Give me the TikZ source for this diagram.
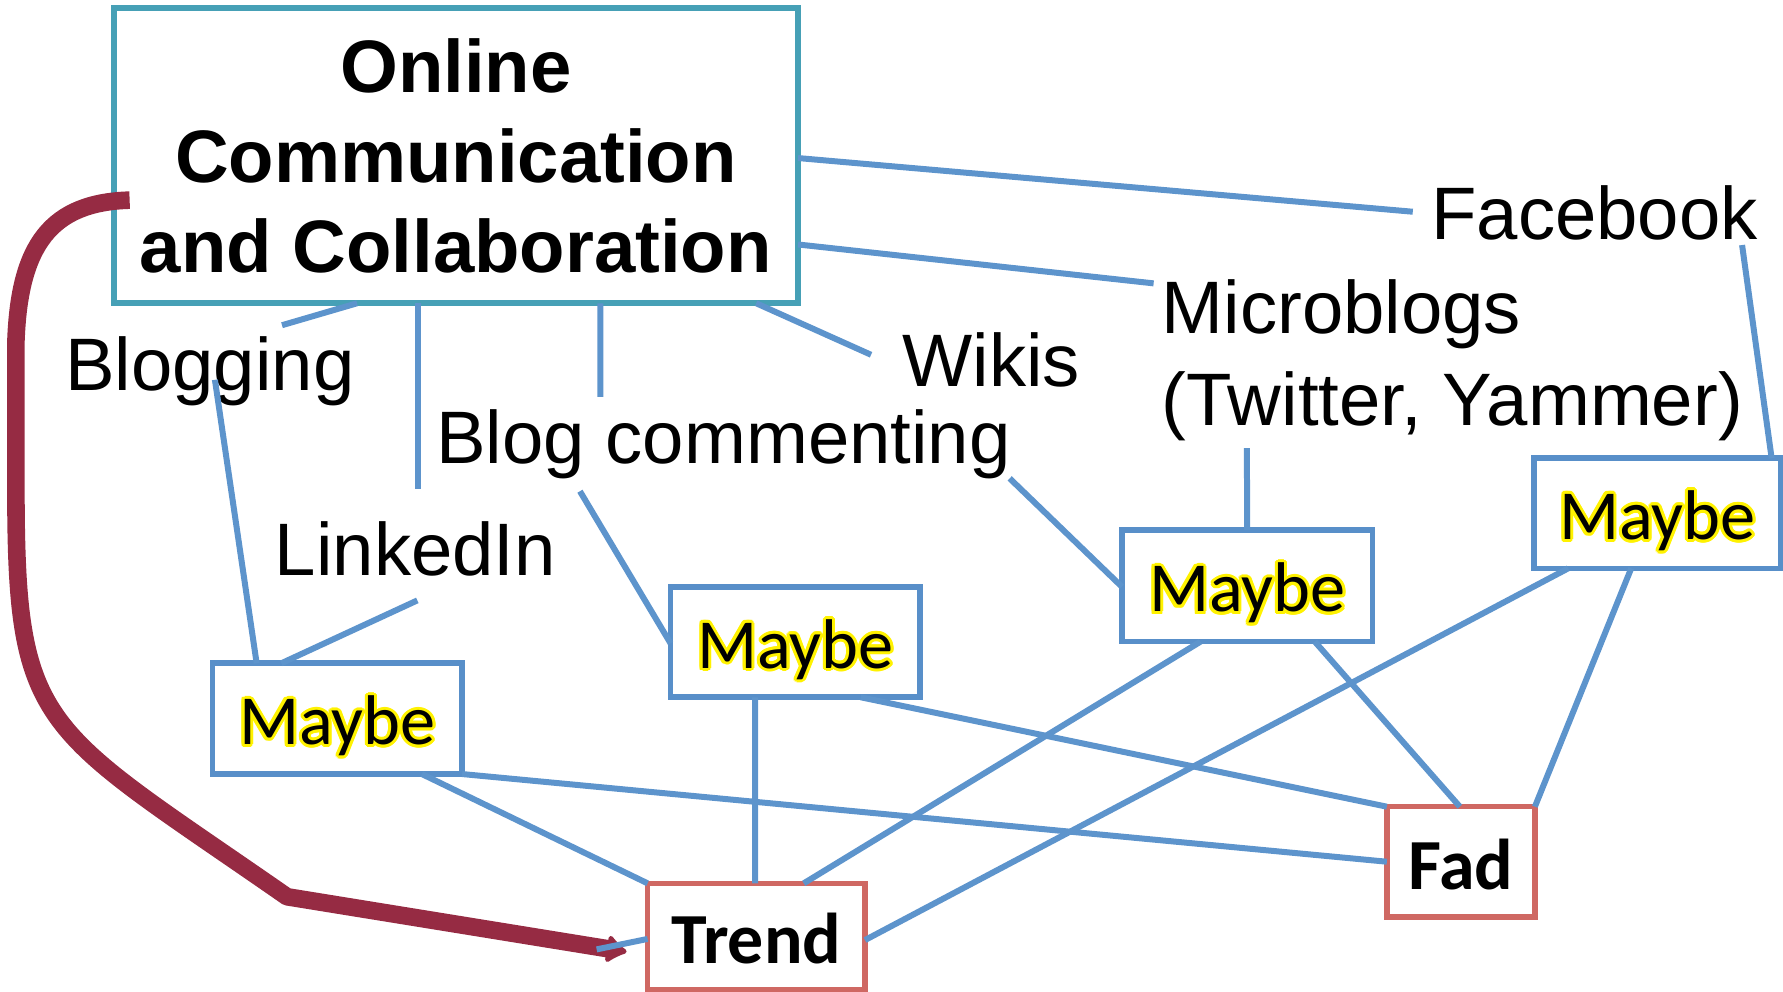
\documentclass[tikz,border=0pt]{standalone}
\usepackage{fontspec}
\setmainfont{Liberation Sans}
\newfontfamily\calibri{Carlito}
\usepackage{contour}
\contourlength{0.75pt}
\usetikzlibrary{arrows.meta}
\definecolor{wireblue}{RGB}{93,148,204}
\definecolor{boxblue}{RGB}{88,143,201}
\definecolor{boxred}{RGB}{207,104,99}
\definecolor{mainteal}{RGB}{70,160,182}
\definecolor{flowred}{RGB}{150,43,67}
\tikzset{wire/.style = {draw=wireblue, line width=1.5pt}}
\tikzset{flow/.style = {draw=flowred, line width=4.4pt, line join=round,
                        -{Latex[length=0.2cm, width=0.3cm, round]}}}
\tikzset{
mainbox/.style = {draw=mainteal, line width=1.5pt, fill=white, align=center,
                  inner sep=0pt, outer sep=0pt, minimum width=6.018cm, minimum height=2.594cm,
                  font=\fontsize{18.6}{22.6}\selectfont\bfseries},
topic/.style = {inner sep=0pt, font=\fontsize{18.6}{22.9}\selectfont},
maybe/.style = {draw=boxblue, line width=1.4pt, fill=white, inner sep=0pt, outer sep=0pt,
                text height=0.46cm, text depth=0cm,
                font=\calibri\fontsize{17.6}{20}\selectfont},
verdict/.style = {draw=boxred, line width=1.4pt, fill=white, inner sep=0pt, outer sep=0pt,
                  text height=0.48cm, text depth=0cm,
                  font=\calibri\bfseries\fontsize{18}{20}\selectfont},
}

\begin{document}
\begin{tikzpicture}
		\useasboundingbox (0,0) rectangle (15.68,-8.72);
		\node [mainbox] (0) at (4.009, -1.37) {Online\\Communication\\and Collaboration};
		\node [topic, anchor=base west] (1) at (0.566, -3.43) {Blogging};
		\node [topic, anchor=base west] (2) at (2.41, -5.06) {LinkedIn};
		\node [topic, anchor=base west] (3) at (3.83, -4.08) {Blog commenting};
		\node [topic, anchor=base west] (4) at (7.93, -3.40) {Wikis};
		\node [topic, anchor=north west, align=left] (5) at (10.21, -2.452) {Microblogs\\(Twitter, Yammer)};
		\node [topic, anchor=base west] (6) at (12.58, -2.11) {Facebook};
		\node [maybe, minimum width=2.196cm, minimum height=0.974cm] (7) at (2.966, -6.32) {\contour{yellow}{Maybe}};
		\node [maybe, minimum width=2.193cm, minimum height=0.972cm] (8) at (6.9935, -5.646) {\contour{yellow}{Maybe}};
		\node [maybe, minimum width=2.204cm, minimum height=0.983cm] (9) at (10.968, -5.1515) {\contour{yellow}{Maybe}};
		\node [maybe, minimum width=2.172cm, minimum height=0.968cm] (10) at (14.574, -4.514) {\contour{yellow}{Maybe}};
		\node [verdict, minimum width=1.912cm, minimum height=0.938cm] (11) at (6.651, -8.237) {Trend};
		\node [verdict, minimum width=1.302cm, minimum height=0.968cm] (12) at (12.847, -7.578) {Fad};
		\coordinate (13) at (2.48, -2.86);
		\coordinate (14) at (3.676, -4.30);
		\coordinate (15) at (5.28, -3.49);
		\coordinate (16) at (7.66, -3.12);
		\coordinate (17) at (10.145, -2.492);
		\coordinate (18) at (12.424, -1.862);
		\coordinate (19) at (1.89, -3.34);
		\coordinate (20) at (3.67, -5.28);
		\coordinate (21) at (5.10, -4.32);
		\coordinate (22) at (8.879, -4.207);
		\coordinate (23) at (10.965, -3.94);
		\coordinate (24) at (15.32, -2.155);
		\coordinate (25) at (5.247, -8.349);
		\draw [wire] ([xshift=2.14cm]0.south west) to (13);
		\draw [wire] ([xshift=2.676cm]0.south west) to (14);
		\draw [wire] ([xshift=4.28cm]0.south west) to (15);
		\draw [wire] ([xshift=5.65cm]0.south west) to (16);
		\draw [wire] ([yshift=-2.077cm]0.north east) to (17);
		\draw [wire] ([yshift=-1.317cm]0.north east) to (18);
		\draw [wire] (19) to ([xshift=0.389cm]7.north west);
		\draw [wire] (20) to ([xshift=0.606cm]7.north west);
		\draw [wire] (21) to ([yshift=-0.498cm]8.north west);
		\draw [wire] (22) to ([yshift=-0.50cm]9.north west);
		\draw [wire] (23) to (9.north);
		\draw [wire] (24) to ([xshift=-0.08cm]10.north east);
		\draw [wire] ([xshift=1.842cm]7.south west) to (11.north west);
		\draw [wire] (7.south east) to (12.west);
		\draw [wire] ([xshift=0.743cm]8.south west) to ([xshift=0.945cm]11.north west);
		\draw [wire] ([xshift=1.673cm]8.south west) to (12.north west);
		\draw [wire] ([xshift=0.691cm]9.south west) to ([xshift=1.373cm]11.north west);
		\draw [wire] ([xshift=1.697cm]9.south west) to ([xshift=0.642cm]12.north west);
		\draw [wire] ([xshift=0.303cm]10.south west) to ([yshift=-0.03cm]11.east);
		\draw [wire] ([xshift=0.857cm]10.south west) to (12.north east);
		\draw [flow] ([shift={(0.14,-0.39)}]0.west) .. controls (0.45,-1.78) and (0.17,-2.15) .. (0.14,-3.0)
			-- (0.14,-4.3) .. controls (0.14,-6.44) and (0.36,-6.38) .. (2.524,-7.886)
			-- ([shift={(-0.185,-0.133)}]11.west);
		\draw [wire] ([yshift=-0.02cm]11.west) to (25);
	\end{tikzpicture}
\end{document}
